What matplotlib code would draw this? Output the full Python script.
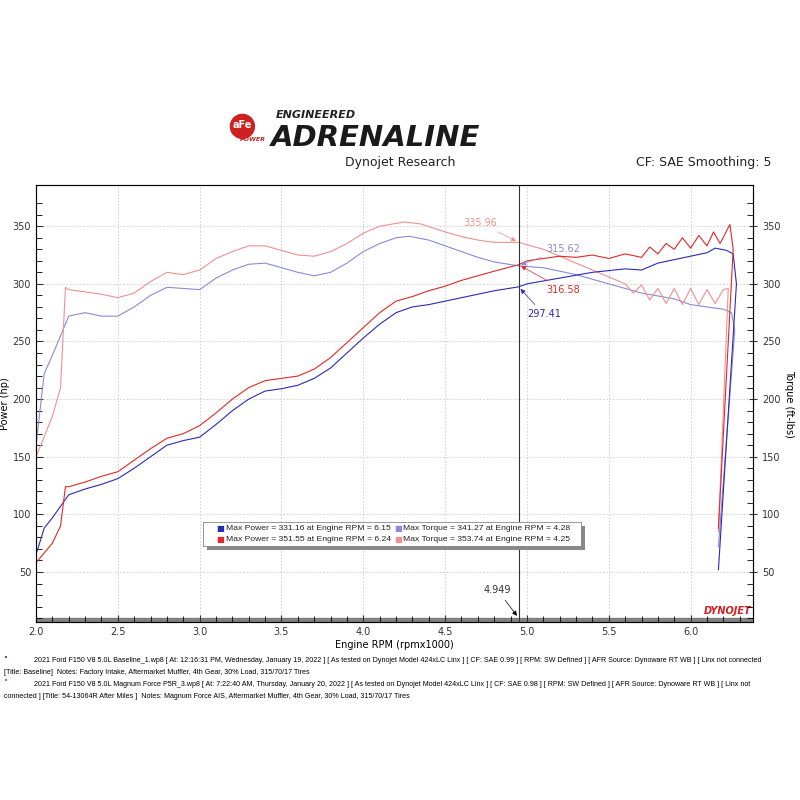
import matplotlib
matplotlib.use("Agg")
import matplotlib.pyplot as plt
from matplotlib.patches import Circle

NARROW = ['Liberation Sans', 'DejaVu Sans']

rpm_bhp = [2.0,2.05,2.1,2.15,2.2,2.3,2.4,2.5,2.6,2.7,2.8,2.9,3.0,3.1,3.2,3.3,3.4,3.5,3.6,3.7,3.8,3.9,4.0,4.1,4.2,4.3,4.4,4.5,4.6,4.7,4.8,4.949,5.0,5.2,5.4,5.6,5.7,5.8,5.9,6.0,6.1,6.15,6.22,6.26,6.28,6.17]
base_hp = [65,88,97,107,117,122,126,131,140,150,160,164,167,178,190,200,207,209,212,218,227,240,253,265,275,280,282,285,288,291,294,297.4,300,305,310,313,312,318,321,324,327,331,329,326,300,52]
rpm_mhp = [2.0,2.1,2.15,2.18,2.2,2.3,2.4,2.5,2.6,2.7,2.8,2.9,3.0,3.1,3.2,3.3,3.4,3.5,3.6,3.7,3.8,3.9,4.0,4.1,4.2,4.3,4.4,4.5,4.6,4.7,4.8,4.949,5.0,5.1,5.2,5.3,5.4,5.5,5.6,5.7,5.75,5.8,5.85,5.9,5.95,6.0,6.05,6.1,6.14,6.18,6.24,6.26,6.17]
mod_hp = [58,75,90,124,124,128,133,137,147,157,166,170,177,188,200,210,216,218,220,226,236,249,262,275,285,289,294,298,303,307,311,316.6,320,322,324,323,325,322,326,323,332,326,335,330,340,331,342,333,345,335,351.5,330,88]
rpm_btq = [2.0,2.05,2.1,2.15,2.2,2.3,2.4,2.5,2.6,2.7,2.8,2.9,3.0,3.1,3.2,3.3,3.4,3.5,3.6,3.7,3.8,3.9,4.0,4.1,4.2,4.28,4.4,4.5,4.6,4.7,4.8,4.949,5.1,5.3,5.5,5.7,5.9,6.0,6.1,6.2,6.25,6.27,6.17]
base_tq = [160,222,238,255,272,275,272,272,280,290,297,296,295,305,312,317,318,314,310,307,310,318,328,335,340,341.3,338,333,328,323,319,315.6,314,308,300,292,287,282,280,278,275,260,72]
rpm_mtq = [2.0,2.1,2.15,2.18,2.2,2.3,2.4,2.5,2.6,2.7,2.8,2.9,3.0,3.1,3.2,3.3,3.4,3.5,3.6,3.7,3.8,3.9,4.0,4.1,4.25,4.35,4.5,4.6,4.7,4.8,4.949,5.1,5.3,5.5,5.6,5.65,5.7,5.75,5.8,5.85,5.9,5.95,6.0,6.05,6.1,6.15,6.2,6.23,6.17]
mod_tq = [150,185,210,297,295,293,291,288,292,302,310,308,312,322,328,333,333,329,325,324,328,335,344,350,353.7,352,345,341,338,336,336,330,318,306,300,292,299,286,296,283,296,282,296,282,295,283,295,296,85]

cursor = 4.949
x_ticks = [2.0,2.5,3.0,3.5,4.0,4.5,5.0,5.5,6.0]
y_ticks = [50,100,150,200,250,300,350]

C_BHP, C_BTQ, C_MHP, C_MTQ = '#2a2ab8', '#8a8ad8', '#e02828', '#f09090'

fig = plt.figure(figsize=(8,8), dpi=100)
ax = fig.add_axes([0.045, 0.2225, 0.896, 0.546])
ax.set_xlim(2.0, 6.38)
ax.set_ylim(6.6, 385.6)
for x, y, c in [(rpm_btq, base_tq, C_BTQ), (rpm_mtq, mod_tq, C_MTQ), (rpm_bhp, base_hp, C_BHP), (rpm_mhp, mod_hp, C_MHP)]:
    ax.plot(x, y, color=c, lw=0.8)
ax.axvline(cursor, color='#333333', lw=0.8)
ax.set_xticks(x_ticks)
ax.set_xticks([2.0+0.1*i for i in range(44)], minor=True)
ax.set_yticks(y_ticks)
ax.grid(True, color='#cccccc', ls=(0,(2,2)), lw=0.6)
ax.tick_params(labelsize=7, colors='#333333', direction='in', length=5)
ax.tick_params(which='minor', direction='in', length=4)
ax.set_xlabel('Engine RPM (rpmx1000)', fontsize=7, labelpad=2)
ax.set_ylabel('Power (hp)', fontsize=7, labelpad=2)
for s in ax.spines.values():
    s.set_color('#666666'); s.set_linewidth(0.8)
ax2 = ax.twinx()
ax2.set_ylim(ax.get_ylim())
ax2.set_yticks(y_ticks)
ax2.set_yticks([10+10*i for i in range(37)], minor=True)
ax2.tick_params(labelsize=7, colors='#333333', direction='inout', length=6)
ax2.tick_params(which='minor', direction='in', length=4)
ax2.set_ylabel('Torque (ft-lbs)', fontsize=7, rotation=270, labelpad=10)
ax.set_yticks([10+10*i for i in range(37)], minor=True)
ax.tick_params(axis='y', which='minor', direction='in', length=4)

ax.axhspan(6.6, 10.5, color='#808080', zorder=1, clip_on=True)

ann = [(cursor, 335.96, '335.96', C_MTQ, (-40, 12)), (cursor, 315.62, '315.62', C_BTQ, (20, 10)),
       (cursor, 316.58, '316.58', C_MHP, (20, -20)), (cursor, 297.41, '297.41', C_BHP, (6, -22))]
for x, y, t, c, off in ann:
    ax.annotate(t, (x, y), xytext=off, textcoords='offset points', fontsize=7, color=c,
                arrowprops=dict(arrowstyle='-|>', color=c, lw=0.5))
ax.annotate('4.949', (cursor, 10), xytext=(-25, 18), textcoords='offset points', fontsize=7,
            color='#333333', arrowprops=dict(arrowstyle='-|>', color='black', lw=0.5))
ax.text(6.37, 12, 'DYNOJET', color='#d02020', fontsize=7, fontweight='bold', style='italic', ha='right', va='bottom')

# legend box with shadow
sh = fig.add_axes([0.259, 0.312, 0.472, 0.03])
sh.set_axis_off()
sh.add_patch(plt.Rectangle((0, 0), 1, 1, color='#888888', transform=sh.transAxes))
lg = fig.add_axes([0.254, 0.3175, 0.472, 0.03])
lg.set_xticks([]); lg.set_yticks([])
lg.set_facecolor('white')
for s in lg.spines.values():
    s.set_color('#888888'); s.set_linewidth(0.6)
rows = [(C_BHP, 'Max Power = 331.16 at Engine RPM = 6.15', C_BTQ, 'Max Torque = 341.27 at Engine RPM = 4.28'),
        (C_MHP, 'Max Power = 351.55 at Engine RPM = 6.24', C_MTQ, 'Max Torque = 353.74 at Engine RPM = 4.25')]
for i, (c1, t1, c2, t2) in enumerate(rows):
    yy = 0.72 - i*0.44
    lg.text(0.035, yy, '■', color=c1, fontsize=6, va='center', transform=lg.transAxes)
    lg.text(0.06, yy, t1, fontsize=6.1, va='center', color='#222222', transform=lg.transAxes, family=NARROW)
    lg.text(0.505, yy, '■', color=c2, fontsize=6, va='center', transform=lg.transAxes)
    lg.text(0.53, yy, t2, fontsize=6.1, va='center', color='#222222', transform=lg.transAxes, family=NARROW)

# header
fig.patches.append(Circle((0.303, 0.842), 0.015, color='#cc2222', transform=fig.transFigure))
fig.text(0.303, 0.844, 'aFe', color='white', fontsize=7, fontweight='bold', ha='center', va='center')
fig.text(0.30, 0.826, 'POWER', color='#cc2222', fontsize=4.5, style='italic', fontweight='bold', ha='left', va='center')
fig.text(0.345, 0.853, 'ENGINEERED', fontsize=8, fontweight='bold', style='italic', color='#222222')
fig.text(0.338, 0.818, 'ADRENALINE', fontsize=21, fontweight='heavy', style='italic', color='#1a1a1a')
fig.text(0.5, 0.797, 'Dynojet Research', fontsize=9, ha='center', va='center', color='#222222')
fig.text(0.965, 0.797, 'CF: SAE Smoothing: 5', fontsize=9, ha='right', va='center', color='#222222')

# footer
fs = 5.15
fig.text(0.005, 0.175, '•', color=C_BHP, fontsize=5)
fig.text(0.042, 0.172, '2021 Ford F150 V8 5.0L Baseline_1.wp8 [ At: 12:16:31 PM, Wednesday, January 19, 2022 ] [ As tested on Dynojet Model 424xLC Linx ] [ CF: SAE 0.99 ] [ RPM: SW Defined ] [ AFR Source: Dynoware RT WB ] [ Linx not connected', fontsize=fs, family=NARROW)
fig.text(0.005, 0.157, '[Title: Baseline]  Notes: Factory Intake, Aftermarket Muffler, 4th Gear, 30% Load, 315/70/17 Tires', fontsize=fs, family=NARROW)
fig.text(0.005, 0.146, '•', color=C_MHP, fontsize=5)
fig.text(0.042, 0.143, '2021 Ford F150 V8 5.0L Magnum Force P5R_3.wp8 [ At: 7:22:40 AM, Thursday, January 20, 2022 ] [ As tested on Dynojet Model 424xLC Linx ] [ CF: SAE 0.98 ] [ RPM: SW Defined ] [ AFR Source: Dynoware RT WB ] [ Linx not', fontsize=fs, family=NARROW)
fig.text(0.005, 0.128, 'connected ] [Title: 54-13064R After Miles ]  Notes: Magnum Force AIS, Aftermarket Muffler, 4th Gear, 30% Load, 315/70/17 Tires', fontsize=fs, family=NARROW)

fig.savefig('out.png', dpi=100)
